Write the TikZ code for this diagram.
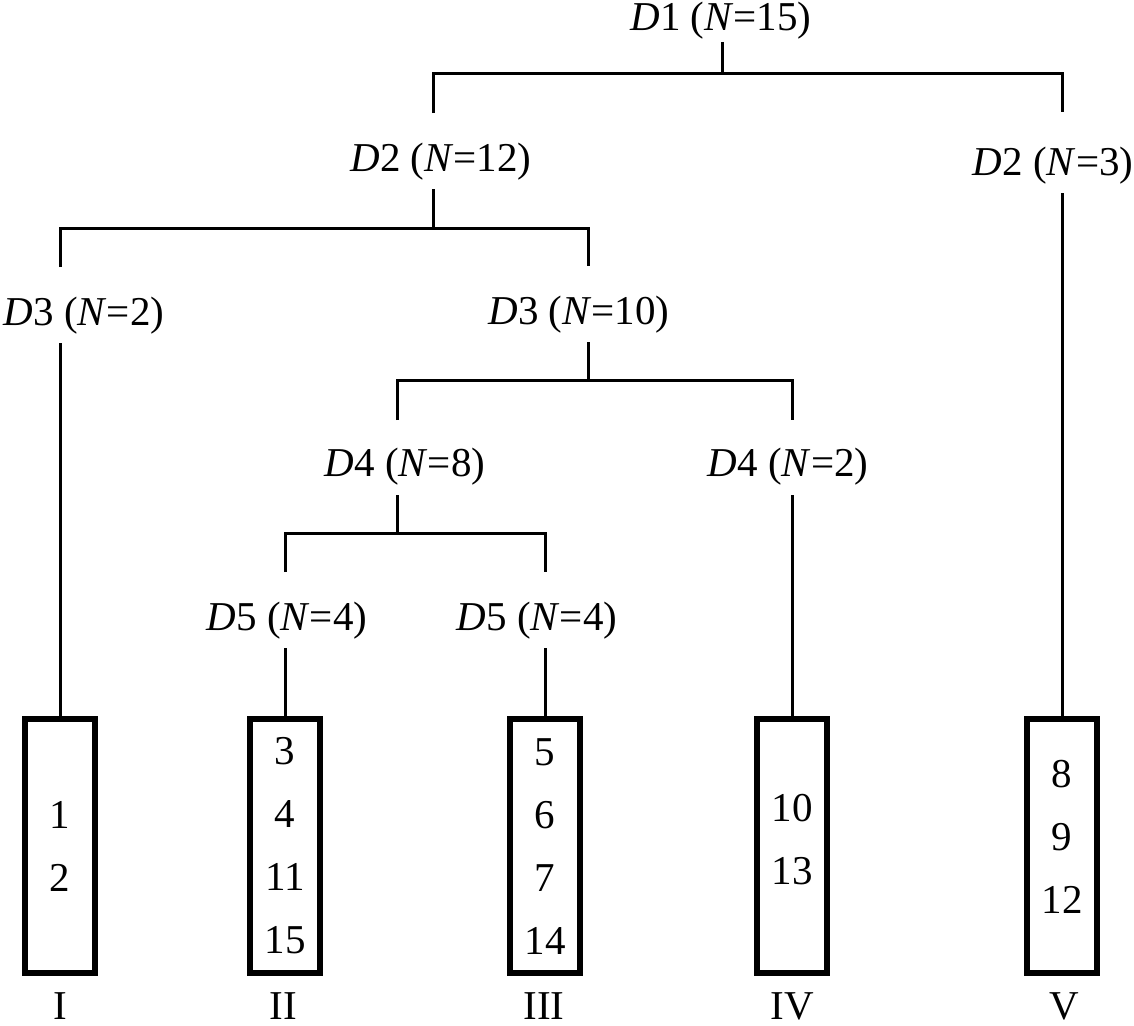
\documentclass[tikz,border=0pt]{standalone}
\usepackage{fontspec}
\setmainfont{Liberation Serif}
\tikzset{
  lab/.style={inner sep=0pt, outer sep=0pt, anchor=base, text height=58pt, text depth=18pt,
    font=\fontsize{41}{50}\selectfont},
  conn/.style={line width=3pt},
  leafbox/.style={draw, line width=5.5pt, minimum width=70pt, minimum height=254pt, inner sep=0pt},
  nums/.style={inner sep=0pt, align=center, font=\fontsize{41}{63}\selectfont},
  roman/.style={inner sep=0pt, anchor=base, font=\fontsize{41}{50}\selectfont}
}
\begin{document}
\begin{tikzpicture}[x=1pt,y=-1pt]
\useasboundingbox (0,0) rectangle (1134,1025);
% labels
\node[lab, text depth=11pt] (t1) at (721,31) {\textit{D}1 (\textit{N}=15)};
\node[lab] (t2a) at (441,171) {\textit{D}2 (\textit{N}=12)};
\node[lab, text height=63pt] (t2b) at (1053,175) {\textit{D}2 (\textit{N}=3)};
\node[lab] (t3a) at (84,325) {\textit{D}3 (\textit{N}=2)};
\node[lab] (t3b) at (579,324) {\textit{D}3 (\textit{N}=10)};
\node[lab, text height=56pt, text depth=19pt] (t4a) at (405,476) {\textit{D}4 (\textit{N}=8)};
\node[lab, text height=56pt, text depth=19pt] (t4b) at (788,476) {\textit{D}4 (\textit{N}=2)};
\node[lab] (t5a) at (287,630) {\textit{D}5 (\textit{N}=4)};
\node[lab] (t5b) at (537,630) {\textit{D}5 (\textit{N}=4)};
% junctions
\coordinate (j1) at (722,73);
\coordinate (j2) at (433,228);
\coordinate (j3) at (588,380);
\coordinate (j4) at (397,533);
% boxes
\node[leafbox] (b1) at (60,846) {};
\node[leafbox] (b2) at (285,846) {};
\node[leafbox] (b3) at (545,846) {};
\node[leafbox] (b4) at (792,846) {};
\node[leafbox] (b5) at (1062,846) {};
\node[nums] (n1) at (60,846) {1\\2};
\node[nums] (n2) at (285,846) {3\\4\\11\\15};
\node[nums] (n3) at (545,847) {5\\6\\7\\14};
\node[nums] (n4) at (792,840) {10\\13};
\node[nums] (n5) at (1062,837) {8\\9\\12};
\node[roman] (r1) at (60,1019) {I};
\node[roman] (r2) at (283,1019) {II};
\node[roman] (r3) at (544,1019) {III};
\node[roman] (r4) at (792,1019) {IV};
\node[roman] (r5) at (1064,1019) {V};
% connectors
\draw[conn] (t1.south -| j1) -- (j1);
\draw[conn] (t2a.north -| j2) |- (j1) -| (t2b.north -| b5);
\draw[conn] (t2a.south -| j2) -- (j2);
\draw[conn] (t3a.north -| b1) |- (j2) -| (t3b.north -| j3);
\draw[conn] (t3b.south -| j3) -- (j3);
\draw[conn] (t4a.north -| j4) |- (j3) -| (t4b.north -| b4);
\draw[conn] (t4a.south -| j4) -- (j4);
\draw[conn] (t5a.north -| b2) |- (j4) -| (t5b.north -| b3);
\draw[conn] (t3a.south -| b1) -- (b1.north);
\draw[conn] (t2b.south -| b5) -- (b5.north);
\draw[conn] (t4b.south -| b4) -- (b4.north);
\draw[conn] (t5a.south -| b2) -- (b2.north);
\draw[conn] (t5b.south -| b3) -- (b3.north);
\end{tikzpicture}
\end{document}
